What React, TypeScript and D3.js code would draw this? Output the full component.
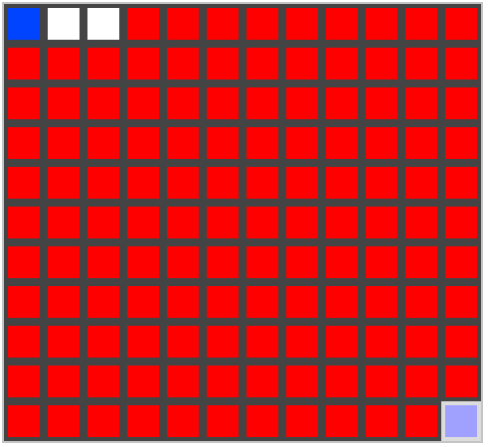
import * as d3 from 'd3';

// cell states, one string per row: B = blue, W = white, R = red, L = lavender
const rows = [
  'BWWRRRRRRRRR',
  'RRRRRRRRRRRR',
  'RRRRRRRRRRRR',
  'RRRRRRRRRRRR',
  'RRRRRRRRRRRR',
  'RRRRRRRRRRRR',
  'RRRRRRRRRRRR',
  'RRRRRRRRRRRR',
  'RRRRRRRRRRRR',
  'RRRRRRRRRRRR',
  'RRRRRRRRRRRL',
];

const colors: Record<string, string> = {
  B: '#0044ff',
  W: '#ffffff',
  R: '#ff0000',
  L: '#a0a0ff',
};

const WIDTH = 490;
const HEIGHT = 447;
const GRID = { left: 4, top: 4, right: 481, bottom: 441 };

export default function App() {
  const nCols = rows[0].length;
  const cols = d3.range(nCols);
  const rowIdx = d3.range(rows.length);

  const x = d3.scaleBand<number>().domain(cols).range([GRID.left, GRID.right]).paddingInner(0.2).paddingOuter(0.1);
  const y = d3.scaleBand<number>().domain(rowIdx).range([GRID.top, GRID.bottom]).paddingInner(0.2).paddingOuter(0.1);

  const cells = rows.flatMap((r, ri) => r.split('').map((c, ci) => ({ r: ri, c: ci, v: c })));

  return (
    <div style={{ position: 'absolute', left: 0, top: 0 }}>
      <svg width={WIDTH} height={HEIGHT}>
        <rect x={GRID.left - 1} y={GRID.top - 1} width={GRID.right - GRID.left + 2} height={GRID.bottom - GRID.top + 2} fill="none" stroke="#c4c4c4" strokeWidth={2} />
        <rect x={GRID.left} y={GRID.top} width={GRID.right - GRID.left} height={GRID.bottom - GRID.top} fill="#444444" />
        {cells
          .filter((d) => d.v === 'L')
          .map((d, i) => {
            const pad = x.step() * 0.1;
            return (
              <rect
                key={'bg' + i}
                x={(x(d.c) ?? 0) - pad}
                y={(y(d.r) ?? 0) - pad}
                width={x.bandwidth() + pad * 2}
                height={y.bandwidth() + pad * 2}
                fill="#dcdcdc"
              />
            );
          })}
        {cells.map((d, i) => (
          <rect key={i} x={x(d.c)} y={y(d.r)} width={x.bandwidth()} height={y.bandwidth()} fill={colors[d.v]} />
        ))}
      </svg>
    </div>
  );
}
